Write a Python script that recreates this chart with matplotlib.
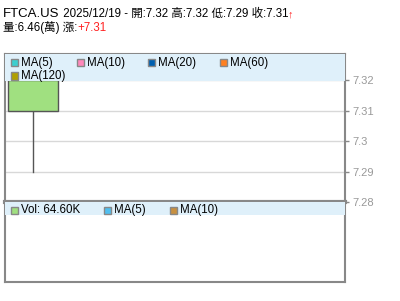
import matplotlib
matplotlib.use('Agg')
import matplotlib.pyplot as plt
from matplotlib.patches import Rectangle

plt.rcParams['font.family'] = ['Liberation Sans', 'Noto Sans CJK TC', 'DejaVu Sans']

# Données
symbol = "FTCA.US"
dates = ["2025/12/19"]
opens = [7.32]
highs = [7.32]
lows = [7.29]
closes = [7.31]
volumes = [64600]
change = "+7.31"
price_ticks = [7.28, 7.29, 7.3, 7.31, 7.32]
price_ma_labels = ["MA(5)", "MA(10)", "MA(20)", "MA(60)", "MA(120)"]
price_ma_colors = ["#3ccfcf", "#ff88bb", "#0060b0", "#ff8020", "#b0a000"]
vol_labels = ["Vol: %.2fK" % (volumes[0] / 1000), "MA(5)", "MA(10)"]
vol_colors = ["#a0e080", "#50bff0", "#c89040"]

W, H = 400, 301
GREY = "#888888"
BAND = "#dff0fa"

fig = plt.figure(figsize=(W / 100, H / 100), dpi=100)


def fx(x):
    return x / W


def fy(y):
    return 1 - y / H


# Panneaux
ax = fig.add_axes([fx(5), fy(202), fx(340), 148 / H])
axv = fig.add_axes([fx(5), fy(282), fx(340), 80 / H])

for a in (ax, axv):
    for s in a.spines.values():
        s.set_color(GREY)
        s.set_linewidth(1.5)
axv.spines['top'].set_linewidth(3)

# Chandelier
xs = list(range(len(dates)))
for i in xs:
    lo, hi = min(opens[i], closes[i]), max(opens[i], closes[i])
    ax.plot([i, i], [lows[i], highs[i]], color="#555555", lw=1, zorder=2)
    ax.add_patch(Rectangle((i - 0.5, lo), 1, hi - lo, facecolor="#a0e080",
                           edgecolor="#555555", lw=1, zorder=3))

ax.set_xlim(-0.56, 6.24)
ax.set_ylim(7.28, 7.3287)
ax.set_yticks(price_ticks)
ax.set_yticklabels(["%g" % t for t in price_ticks])
ax.yaxis.tick_right()
ax.tick_params(axis='y', colors=GREY, labelsize=8, length=3, width=1, pad=2)
for lab in ax.get_yticklabels():
    lab.set_color("#999999")
ax.tick_params(axis='x', bottom=False, labelbottom=False)
ax.grid(axis='y', color="#d8d8d8", lw=1, zorder=0)
ax.set_axisbelow(True)

# Bandeau de légende (prix)
ax.add_patch(Rectangle((0, 1 - 27 / 148), 1, 27 / 148, transform=ax.transAxes,
                       facecolor=BAND, edgecolor='none', zorder=4))

axv.set_xlim(ax.get_xlim())
axv.set_ylim(0, 1)
axv.set_xticks([])
axv.set_yticks([])
axv.add_patch(Rectangle((0, 1 - 13 / 80), 1, 13 / 80, transform=axv.transAxes,
                        facecolor=BAND, edgecolor='none', zorder=4))


def legend_item(x, y, color, label):
    fig.patches.append(Rectangle((fx(x), fy(y + 3.5)), fx(7), 7 / H,
                                 transform=fig.transFigure, facecolor=color,
                                 edgecolor=GREY, lw=1, zorder=5))
    fig.text(fx(x + 10), fy(y), label, fontsize=8.3, va='center', ha='left')


price_pos = [(11, 63), (77, 63), (148, 63), (220, 63), (11, 76)]
for (x, y), c, l in zip(price_pos, price_ma_colors, price_ma_labels):
    legend_item(x, y, c, l)

vol_pos = [(11, 210), (104, 210), (170, 210)]
for (x, y), c, l in zip(vol_pos, vol_colors, vol_labels):
    legend_item(x, y, c, l)

# En-tête
fig.canvas.draw()
renderer = fig.canvas.get_renderer()


def write_line(pieces, x, y):
    for txt, size, color, weight in pieces:
        t = fig.text(fx(x), fy(y), txt, fontsize=size, color=color,
                     fontweight=weight, ha='left', va='baseline')
        bb = t.get_window_extent(renderer)
        x += bb.width


line1 = [(symbol, 9.5, "black", "normal"),
         (" %s - 開:%.2f 高:%.2f 低:%.2f 收:%.2f" % (dates[0], opens[0], highs[0],
                                                lows[0], closes[0]),
          8.3, "black", "normal"),
         ("↑", 8, "#ff2020", "bold")]
line2 = [("量:%.2f(萬) 漲:" % (volumes[0] / 10000), 8.3, "black", "normal"),
         (change, 8.3, "#ff2020", "normal")]
write_line(line1, 3, 17)
write_line(line2, 3, 31)

fig.savefig("out.png", dpi=100, facecolor='white')
